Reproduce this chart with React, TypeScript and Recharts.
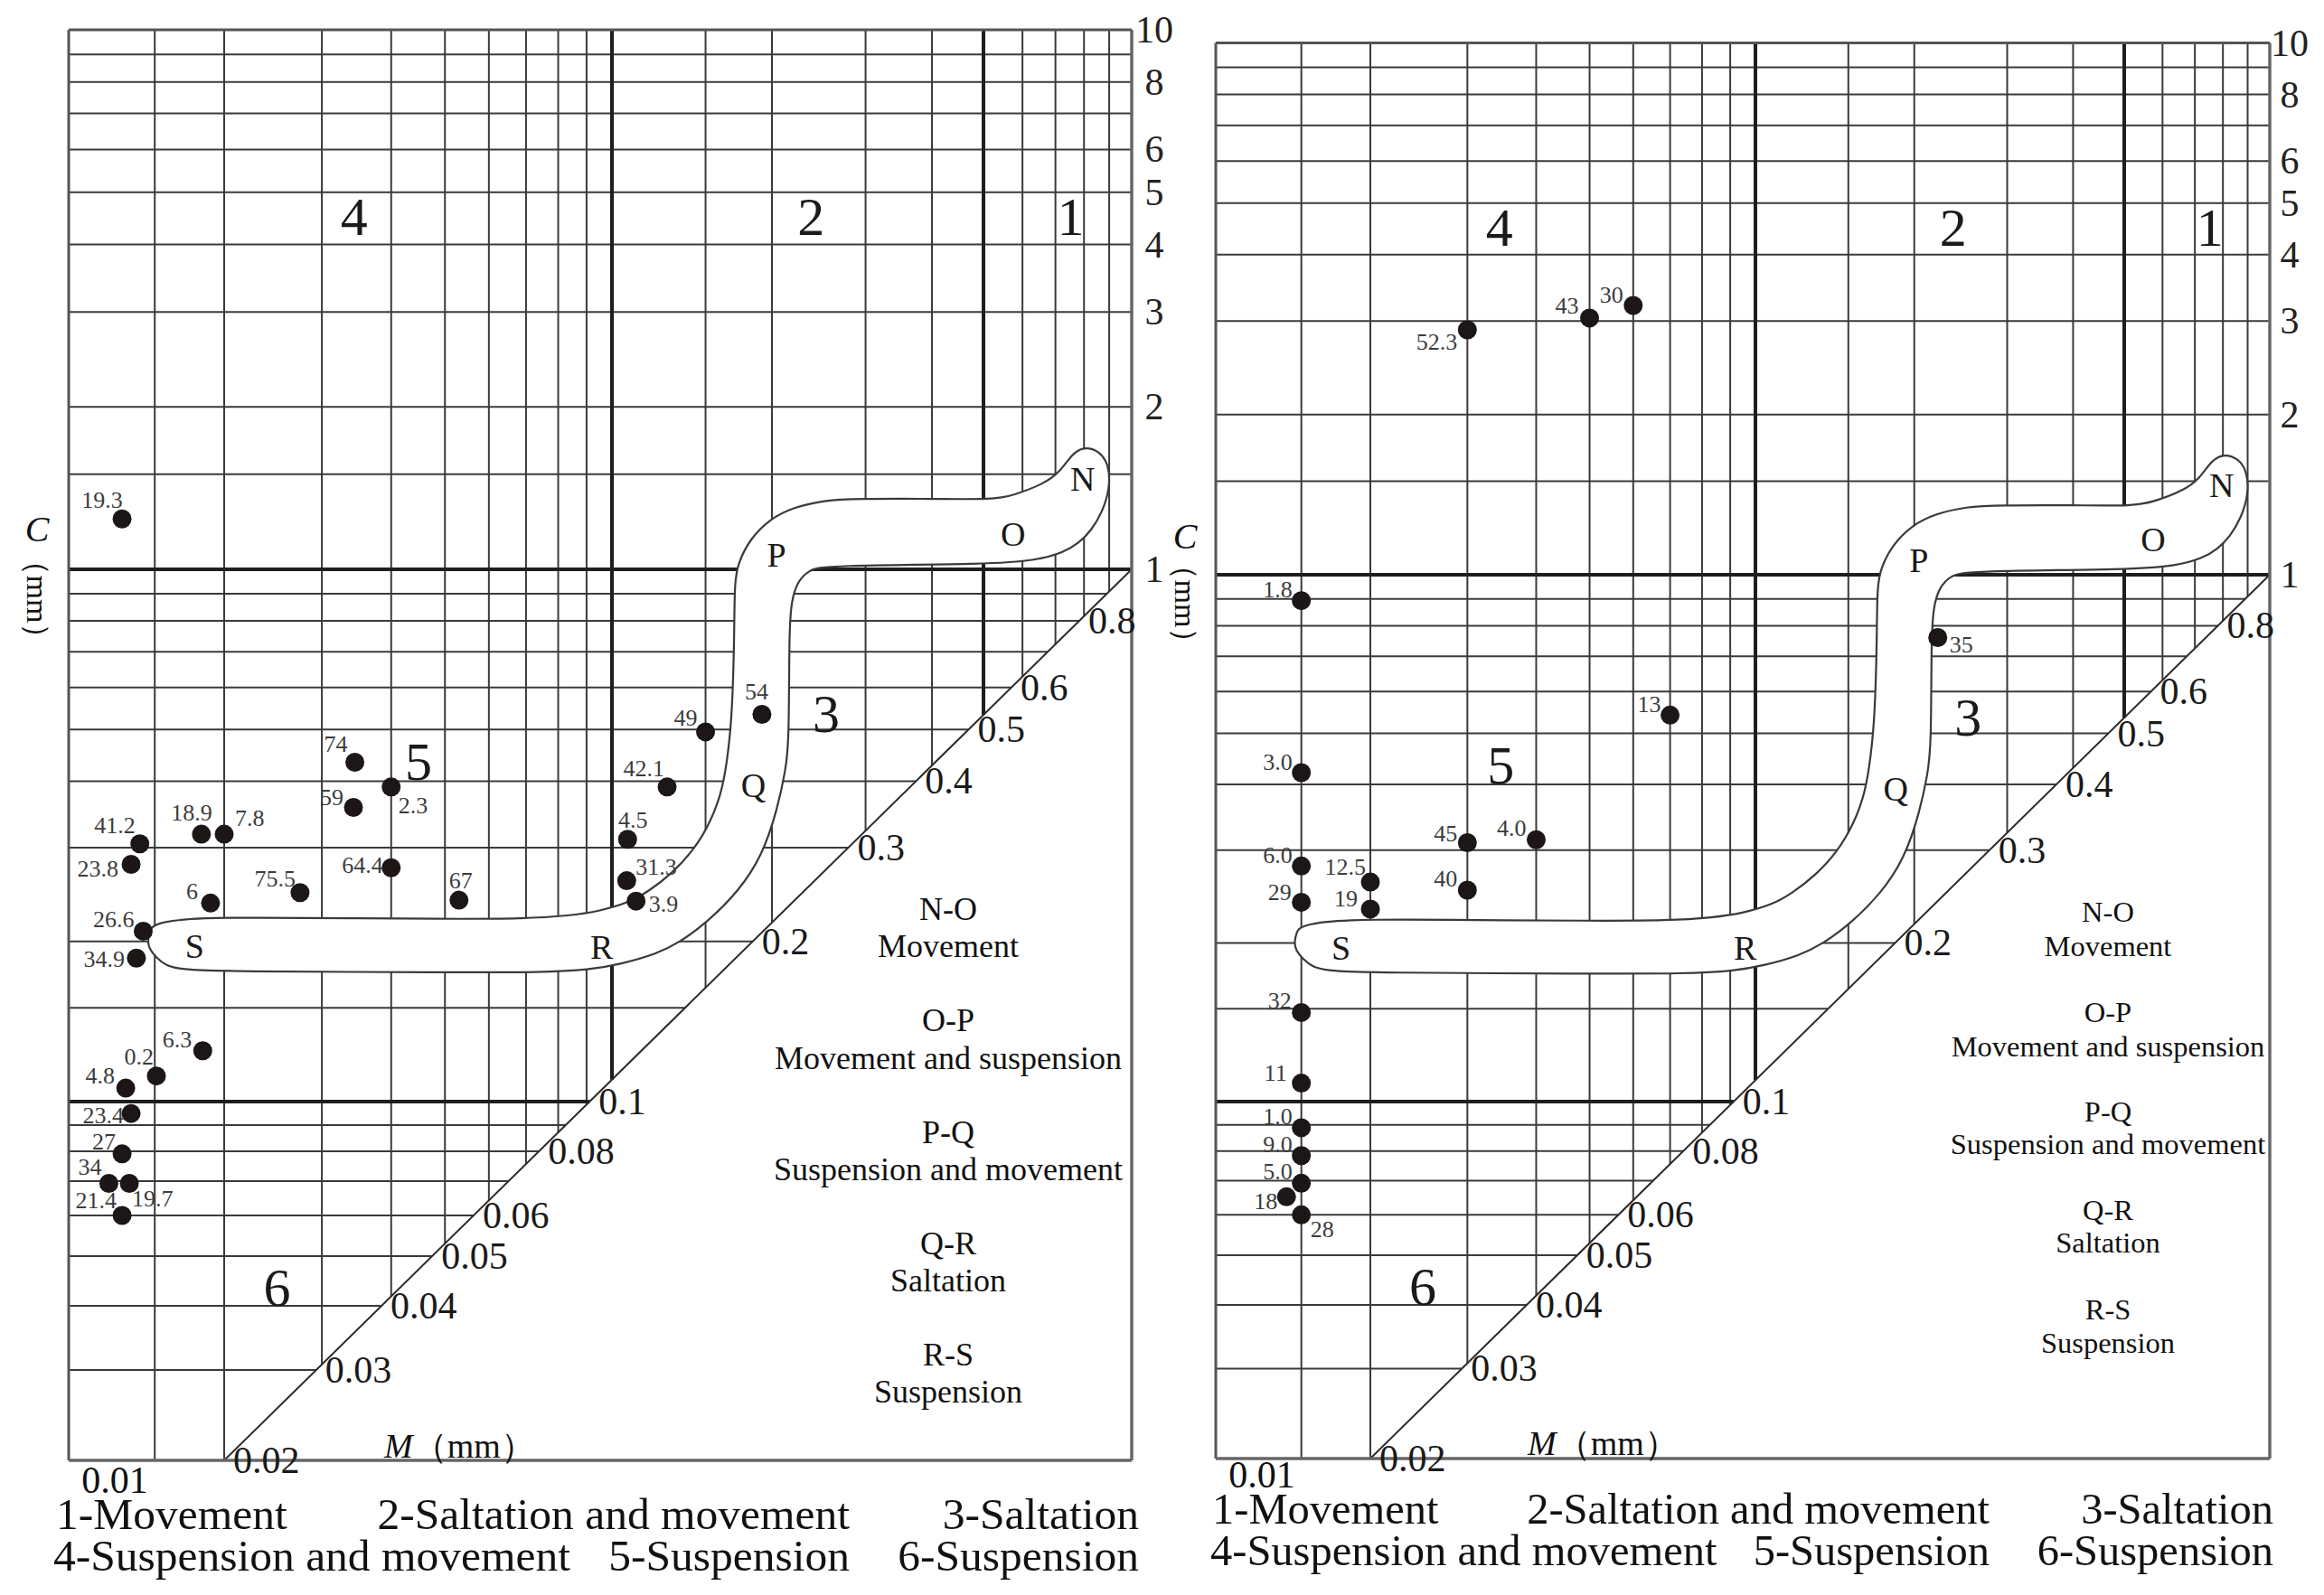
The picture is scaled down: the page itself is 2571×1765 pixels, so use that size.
import React from 'react';
import { ScatterChart, Scatter, XAxis, YAxis, ReferenceLine } from 'recharts';

const SERIF = "'Liberation Serif', 'Times New Roman', serif";
const H = 1765;

// C-M diagram grid (mm)
const GRID_M = [0.015, 0.02, 0.03, 0.04, 0.05, 0.06, 0.07, 0.08, 0.09, 0.1, 0.15, 0.2, 0.3, 0.4, 0.5, 0.6, 0.7, 0.8, 0.9];
const GRID_C = [0.03, 0.04, 0.05, 0.06, 0.07, 0.08, 0.09, 0.1, 0.15, 0.2, 0.3, 0.4, 0.5, 0.6, 0.7, 0.8, 0.9, 1, 1.5, 2, 3, 4, 5, 6, 7, 8, 9];
const HEAVY_M = [0.1, 0.5];
const HEAVY_C = [0.1, 1];
const C_TICKS = [1, 2, 3, 4, 5, 6, 8, 10];
const DIAG_TICKS = [0.02, 0.03, 0.04, 0.05, 0.06, 0.08, 0.1, 0.2, 0.3, 0.4, 0.5, 0.6, 0.8];
const M_MIN = 0.0105;
const M_MAX = 1;
const C_MIN = 0.02;
const C_MAX = 10;

// zone numbers and N-O-P-Q-R-S letters
const ZONE_TEXT = ['1', '2', '3', '4', '6'];
const ZONE_M = [0.752, 0.237, 0.253, 0.0343, 0.0249];
const ZONE_C = [4.5, 4.5, 0.536, 4.5, 0.0433];
const LETTERS = ['N', 'O', 'P', 'Q', 'R', 'S'];
const LETTER_M = [0.795, 0.574, 0.204, 0.1845, 0.0958, 0.0177];
const LETTER_C = [1.472, 1.163, 1.063, 0.3925, 0.1955, 0.1958];

// outline of the N-O-P-Q-R-S field
const BAND_M = [0.01493, 0.01778, 0.02687, 0.05084, 0.0695, 0.08387, 0.095, 0.108, 0.117, 0.1295, 0.1434, 0.1536, 0.1616, 0.1657, 0.1684, 0.17, 0.17, 0.1729, 0.1821, 0.1981, 0.2193, 0.251, 0.2878, 0.4043, 0.5234, 0.5734, 0.6637, 0.7147, 0.7549, 0.7975, 0.8581, 0.8985, 0.9034, 0.8734, 0.8268, 0.7826, 0.7278, 0.6402, 0.5234, 0.251, 0.2348, 0.2231, 0.2175, 0.2154, 0.2154, 0.2122, 0.2048, 0.1916, 0.1729, 0.1508, 0.134, 0.1211, 0.1039, 0.09104, 0.0749, 0.05084, 0.0199, 0.01671, 0.01569, 0.01512, 0.01465, 0.01456, 0.01471];
const BAND_C = [0.2163, 0.222, 0.2214, 0.2203, 0.2206, 0.2235, 0.2279, 0.2369, 0.2481, 0.2678, 0.299, 0.3368, 0.3858, 0.4575, 0.5414, 0.7605, 0.9475, 1.0313, 1.14, 1.2395, 1.3024, 1.3427, 1.3514, 1.3514, 1.3469, 1.3701, 1.4404, 1.5142, 1.6326, 1.6884, 1.6606, 1.5657, 1.4166, 1.2809, 1.1783, 1.1205, 1.0747, 1.0394, 1.022, 1.0171, 0.9969, 0.9475, 0.8705, 0.7605, 0.4729, 0.4198, 0.3543, 0.2891, 0.2481, 0.2169, 0.1991, 0.1892, 0.1813, 0.1768, 0.1749, 0.1749, 0.1756, 0.1771, 0.1802, 0.1862, 0.1936, 0.2013, 0.2094];

// left diagram samples
const LEFT_NAMES = ['19.3', '74', '59', '2.3', '54', '49', '42.1', '4.5', '31.3', '3.9', '67', '64.4', '75.5', '6', '18.9', '7.8', '41.2', '23.8', '26.6', '34.9', '6.3', '0.2', '4.8', '23.4', '27', '34', '19.7', '21.4'];
const LEFT_M = [0.0131, 0.0344, 0.0342, 0.04, 0.1915, 0.15, 0.127, 0.107, 0.1066, 0.111, 0.053, 0.04, 0.0274, 0.0189, 0.0182, 0.02, 0.0141, 0.0136, 0.0143, 0.0139, 0.0183, 0.0151, 0.0133, 0.0136, 0.0131, 0.0124, 0.0135, 0.0131];
const LEFT_C = [1.24, 0.434, 0.357, 0.39, 0.534, 0.495, 0.39, 0.311, 0.26, 0.238, 0.239, 0.275, 0.247, 0.236, 0.318, 0.318, 0.305, 0.279, 0.209, 0.186, 0.1246, 0.1117, 0.106, 0.0948, 0.0791, 0.0693, 0.0693, 0.06];
const LEFT_LABEL_AT: [string, number, number][] = [
  ['middle', -22, -12], ['end', -8, -12], ['end', -11, -2], ['start', 8, 29], ['middle', -6, -16], ['end', -9, -7],
  ['end', -3, -12], ['middle', 6, -13], ['start', 10, -7], ['start', 14, 12], ['middle', 2, -13], ['end', -9, 6],
  ['end', -5, -7], ['end', -14, -4], ['end', 12, -15], ['start', 12, -9], ['end', -5, -12], ['end', -14, 13],
  ['end', -10, -4], ['end', -13, 10], ['end', -12, -4], ['end', -3, -13], ['end', -12, -5], ['end', -8, 11],
  ['end', -7, -5], ['end', -8, -9], ['start', 3, 26], ['end', -6, -8],
];
const LEFT_ZONE5 = [0.0448, 0.435];

// right diagram samples
const RIGHT_NAMES = ['52.3', '43', '30', '1.8', '35', '13', '3.0', '45', '4.0', '6.0', '12.5', '29', '19', '40', '32', '11', '1.0', '9.0', '5.0', '18', '28'];
const RIGHT_M = [0.03, 0.05, 0.06, 0.015, 0.2216, 0.07, 0.015, 0.03, 0.04, 0.015, 0.02, 0.015, 0.02, 0.03, 0.015, 0.015, 0.015, 0.015, 0.015, 0.0141, 0.015];
const RIGHT_C = [2.888, 3.04, 3.21, 0.893, 0.76, 0.5415, 0.421, 0.31, 0.314, 0.28, 0.261, 0.239, 0.232, 0.252, 0.1476, 0.1084, 0.0889, 0.0784, 0.0692, 0.0651, 0.06];
const RIGHT_LABEL_AT: [string, number, number][] = [
  ['end', -11, 22], ['end', -12, -5], ['end', -11, -3], ['end', -10, -4], ['start', 13, 17], ['end', -10, -3],
  ['end', -10, -3], ['end', -11, -2], ['end', -11, -4], ['end', -10, -3], ['end', -5, -8], ['end', -11, -2],
  ['end', -14, -3], ['end', -11, -4], ['end', -11, -4], ['end', -16, -3], ['end', -10, -4], ['end', -10, -4],
  ['end', -10, -4], ['end', -10, 14], ['start', 10, 25],
];
const RIGHT_ZONE5 = [0.0345, 0.434];

const PROCESS_TEXT = ['N-O', 'Movement', 'O-P', 'Movement and suspension', 'P-Q', 'Suspension and movement', 'Q-R', 'Saltation', 'R-S', 'Suspension'];
const LEGEND_ROW1 = ['1-Movement', '2-Saltation and movement', '3-Saltation'];
const LEGEND_ROW2 = ['4-Suspension and movement', '5-Suspension', '6-Suspension'];

type Knot = [number, number];

// log scale drawn piece by piece between the printed decade lines
function makeLogScale(knots: Knot[]) {
  const logs = knots.map((k) => Math.log10(k[0]));
  const p0 = knots[0][1];
  const p1 = knots[knots.length - 1][1];
  const fr = knots.map((k) => (k[1] - p0) / (p1 - p0));
  const frac = (v: number) => {
    const l = Math.log10(v);
    let i = 0;
    while (i < logs.length - 2 && l > logs[i + 1]) i++;
    return fr[i] + ((l - logs[i]) / (logs[i + 1] - logs[i])) * (fr[i + 1] - fr[i]);
  };
  const valueAt = (f: number) => {
    let i = 0;
    while (i < fr.length - 2 && f > fr[i + 1]) i++;
    return Math.pow(10, logs[i] + ((f - fr[i]) / (fr[i + 1] - fr[i])) * (logs[i + 1] - logs[i]));
  };
  const build = (): any => {
    let dom = [knots[0][0], knots[knots.length - 1][0]];
    let rng = [0, 1];
    const s: any = (v: number) => rng[0] + frac(v) * (rng[1] - rng[0]);
    s.domain = (d?: number[]) => {
      if (d === undefined) return dom;
      dom = d.slice();
      return s;
    };
    s.range = (r?: number[]) => {
      if (r === undefined) return rng;
      rng = r.slice();
      return s;
    };
    s.invert = (p: number) => valueAt((p - rng[0]) / (rng[1] - rng[0]));
    s.copy = () => build().domain(dom).range(rng);
    s.ticks = () => knots.map((k) => k[0]);
    s.clamp = () => s;
    s.nice = () => s;
    return s;
  };
  return { scale: build(), frac, valueAt };
}

type PanelLayout = {
  left: number;
  width: number;
  yAxisWidth: number;
  tickDx: number;
  xKnots: Knot[];
  yKnots: Knot[];
  cLabel: { x: number; y: number; ymm: number };
  mLabel: { x: number; y: number };
  origin: { x: number; y: number };
  side: { x: number; ys: number[]; size: number };
  legend: { y1: number; y2: number; row1: number[]; row2: number[]; size: number };
};

const LEFT_LAYOUT: PanelLayout = {
  left: 0,
  width: 1300,
  yAxisWidth: 44,
  tickDx: 25,
  xKnots: [[M_MIN, 76], [0.02, 248], [0.1, 677], [0.5, 1088], [M_MAX, 1252]],
  yKnots: [[C_MIN, 1616], [0.1, 1219], [1, 630], [C_MAX, 33]],
  cLabel: { x: 41, y: 586, ymm: 663 },
  mLabel: { x: 425, y: 1600 },
  origin: { x: 127, y: 1638 },
  side: { x: 1049, ys: [1006, 1047, 1129, 1171, 1253, 1294, 1376, 1417, 1499, 1540], size: 36 },
  legend: { y1: 1676, y2: 1722, row1: [62, 940, 1260], row2: [59, 940, 1260], size: 49.5 },
};

const RIGHT_LAYOUT: PanelLayout = {
  left: 1300,
  width: 1271,
  yAxisWidth: 56,
  tickDx: 22,
  xKnots: [[M_MIN, 1345], [0.02, 1516], [0.1, 1942], [0.5, 2350], [M_MAX, 2511]],
  yKnots: [[C_MIN, 1614], [0.1, 1219], [1, 636], [C_MAX, 47.6]],
  cLabel: { x: 1311, y: 594, ymm: 668 },
  mLabel: { x: 1690, y: 1597 },
  origin: { x: 1396, y: 1632 },
  side: { x: 2332, ys: [1009, 1047, 1120, 1158, 1230, 1266, 1339, 1375, 1449, 1486], size: 32.5 },
  legend: { y1: 1670, y2: 1716, row1: [1341, 2201, 2515], row2: [1339, 2201, 2515], size: 48.5 },
};

const LINE = '#3a3a3a';
const HEAVY = '#1e1e1e';

const textShape = (size: number, dx = 0, anchor = 'middle') => (p: any) => (
  <text x={p.cx + dx} y={p.cy} textAnchor={anchor} dominantBaseline="central" fontSize={size} fontFamily={SERIF} fill="#1a1a1a">
    {p.payload.text}
  </text>
);

const dotShape = (p: any) => {
  const [anchor, dx, dy] = p.payload.at;
  return (
    <g>
      <circle cx={p.cx} cy={p.cy} r={10.5} fill="#1c1616" />
      <text x={p.cx + dx} y={p.cy + dy} textAnchor={anchor} fontSize={26} fontFamily={SERIF} fill="#3c3c3c">
        {p.payload.name}
      </text>
    </g>
  );
};

function Panel({ lay, names, ms, cs, labelAt, zone5 }: { lay: PanelLayout; names: string[]; ms: number[]; cs: number[]; labelAt: [string, number, number][]; zone5: number[] }) {
  const X = makeLogScale(lay.xKnots);
  const Y = makeLogScale(lay.yKnots);
  // the C = M line runs straight from (0.02, 0.02) to (1, 1)
  const d0x = X.frac(0.02);
  const d0y = Y.frac(0.02);
  const d1x = X.frac(1);
  const d1y = Y.frac(1);
  const hEnd = (c: number) => (c >= 1 ? M_MAX : X.valueAt(d0x + ((Y.frac(c) - d0y) / (d1y - d0y)) * (d1x - d0x)));
  const vStart = (m: number) => (m < 0.02 ? C_MIN : Y.valueAt(d0y + ((X.frac(m) - d0x) / (d1x - d0x)) * (d1y - d0y)));

  const plotL = lay.xKnots[0][1] - lay.left;
  const plotR = lay.xKnots[lay.xKnots.length - 1][1] - lay.left;
  const top = lay.yKnots[lay.yKnots.length - 1][1];
  const bottom = lay.yKnots[0][1];
  const margin = { left: plotL, right: lay.width - plotR - lay.yAxisWidth, top, bottom: H - bottom };

  const points = ms.map((m, i) => ({ m, c: cs[i], name: names[i], at: labelAt[i] }));
  const band = BAND_M.map((m, i) => ({ m, c: BAND_C[i] }));
  const zones = ZONE_TEXT.map((t, i) => ({ m: ZONE_M[i], c: ZONE_C[i], text: t })).concat([{ m: zone5[0], c: zone5[1], text: '5' }]);
  const letters = LETTERS.map((t, i) => ({ m: LETTER_M[i], c: LETTER_C[i], text: t }));
  const diag = DIAG_TICKS.map((c) => ({ m: hEnd(c), c, text: String(c) }));

  const RightTick = (p: any) => (
    <text x={p.x + lay.tickDx} y={p.y} textAnchor="middle" dominantBaseline="central" fontSize={42} fontFamily={SERIF} fill="#222">
      {p.payload.value}
    </text>
  );

  return (
    <div style={{ position: 'absolute', left: lay.left, top: 0 }}>
      <ScatterChart width={lay.width} height={H} margin={margin}>
        <XAxis dataKey="m" type="number" scale={X.scale} domain={[M_MIN, M_MAX]} hide ticks={GRID_M} />
        <YAxis
          dataKey="c"
          type="number"
          orientation="right"
          scale={Y.scale}
          domain={[C_MIN, C_MAX]}
          ticks={C_TICKS}
          interval={0}
          axisLine={false}
          tickLine={false}
          tickSize={0}
          tickMargin={0}
          width={lay.yAxisWidth}
          tick={RightTick}
        />
        {GRID_C.filter((c) => !HEAVY_C.includes(c)).map((c) => (
          <ReferenceLine key={'h' + c} segment={[{ x: M_MIN, y: c }, { x: hEnd(c), y: c }]} stroke={LINE} strokeWidth={2} ifOverflow="visible" zIndex={300} />
        ))}
        {GRID_M.filter((m) => !HEAVY_M.includes(m)).map((m) => (
          <ReferenceLine key={'v' + m} segment={[{ x: m, y: vStart(m) }, { x: m, y: C_MAX }]} stroke={LINE} strokeWidth={2} ifOverflow="visible" zIndex={300} />
        ))}
        {HEAVY_C.map((c) => (
          <ReferenceLine key={'hh' + c} segment={[{ x: M_MIN, y: c }, { x: hEnd(c), y: c }]} stroke={HEAVY} strokeWidth={4} ifOverflow="visible" zIndex={301} />
        ))}
        {HEAVY_M.map((m) => (
          <ReferenceLine key={'vh' + m} segment={[{ x: m, y: vStart(m) }, { x: m, y: C_MAX }]} stroke={HEAVY} strokeWidth={4} ifOverflow="visible" zIndex={301} />
        ))}
        <ReferenceLine segment={[{ x: 0.02, y: C_MIN }, { x: M_MAX, y: 1 }]} stroke="#2a2a2a" strokeWidth={2} ifOverflow="visible" zIndex={302} />
        <ReferenceLine x={M_MIN} stroke="#555" strokeWidth={3} ifOverflow="visible" zIndex={302} />
        <ReferenceLine x={M_MAX} stroke="#666" strokeWidth={3.5} ifOverflow="visible" zIndex={302} />
        <ReferenceLine y={C_MAX} stroke="#555" strokeWidth={3} ifOverflow="visible" zIndex={302} />
        <ReferenceLine y={C_MIN} stroke="#666" strokeWidth={3.5} ifOverflow="visible" zIndex={302} />
        <Scatter
          data={band}
          isAnimationActive={false}
          line={{ stroke: '#3a3a3a', strokeWidth: 2.2, fill: '#ffffff' }}
          lineType="joint"
          lineJointType="basisClosed"
          shape={() => <g />}
          zIndex={610}
        />
        <Scatter data={zones} isAnimationActive={false} shape={textShape(60)} zIndex={620} />
        <Scatter data={letters} isAnimationActive={false} shape={textShape(38)} zIndex={620} />
        <Scatter data={diag} isAnimationActive={false} shape={textShape(42, 10, 'start')} zIndex={620} />
        <Scatter data={points} isAnimationActive={false} shape={dotShape} zIndex={630} />
      </ScatterChart>
    </div>
  );
}

function PanelText({ lay }: { lay: PanelLayout }) {
  const abs = (x: number, y: number, tx: string): React.CSSProperties => ({
    position: 'absolute',
    left: x,
    top: y,
    transform: `translate(${tx}, -50%)`,
    whiteSpace: 'nowrap',
    lineHeight: 1,
  });
  const aligns = ['0', '-100%', '-100%'];
  return (
    <>
      <div style={{ ...abs(lay.cLabel.x, lay.cLabel.y, '-50%'), fontSize: 40, fontStyle: 'italic' }}>C</div>
      <div style={{ ...abs(lay.cLabel.x, lay.cLabel.ymm, '-50%'), transform: 'translate(-50%, -50%) rotate(90deg)', fontSize: 34 }}>（mm）</div>
      <div style={{ ...abs(lay.mLabel.x, lay.mLabel.y, '0'), fontSize: 38 }}>
        <i>M</i>（mm）
      </div>
      <div style={{ ...abs(lay.origin.x, lay.origin.y, '-50%'), fontSize: 42 }}>0.01</div>
      {PROCESS_TEXT.map((t, i) => (
        <div key={t + i} style={{ ...abs(lay.side.x, lay.side.ys[i], '-50%'), fontSize: lay.side.size }}>
          {t}
        </div>
      ))}
      {LEGEND_ROW1.map((t, i) => (
        <div key={t} style={{ ...abs(lay.legend.row1[i], lay.legend.y1, aligns[i]), fontSize: lay.legend.size }}>
          {t}
        </div>
      ))}
      {LEGEND_ROW2.map((t, i) => (
        <div key={t} style={{ ...abs(lay.legend.row2[i], lay.legend.y2, aligns[i]), fontSize: lay.legend.size }}>
          {t}
        </div>
      ))}
    </>
  );
}

export default function App() {
  return (
    <div style={{ position: 'absolute', left: 0, top: 0, width: 2571, height: H, background: '#fff', fontFamily: SERIF, color: '#111', overflow: 'hidden' }}>
      <Panel lay={LEFT_LAYOUT} names={LEFT_NAMES} ms={LEFT_M} cs={LEFT_C} labelAt={LEFT_LABEL_AT} zone5={LEFT_ZONE5} />
      <Panel lay={RIGHT_LAYOUT} names={RIGHT_NAMES} ms={RIGHT_M} cs={RIGHT_C} labelAt={RIGHT_LABEL_AT} zone5={RIGHT_ZONE5} />
      <PanelText lay={LEFT_LAYOUT} />
      <PanelText lay={RIGHT_LAYOUT} />
    </div>
  );
}
